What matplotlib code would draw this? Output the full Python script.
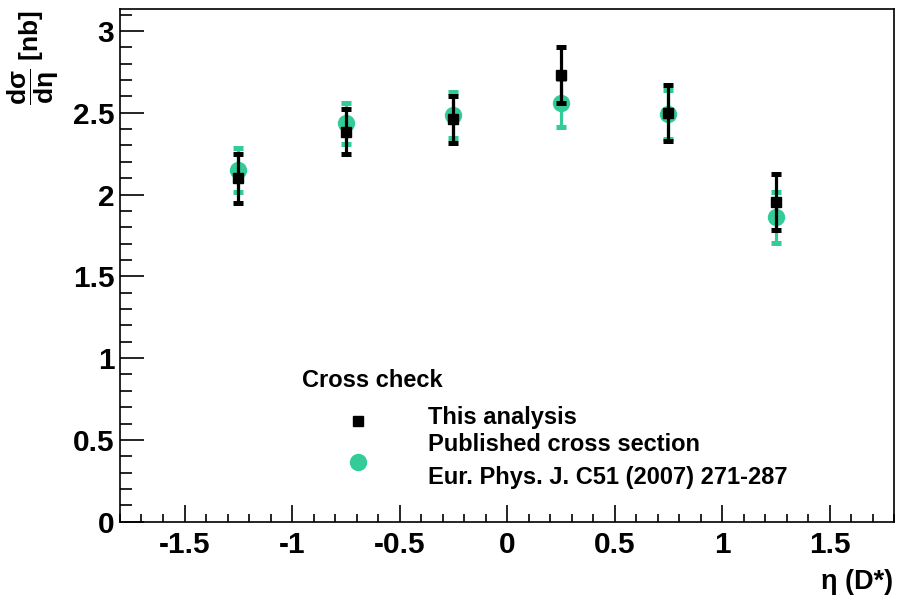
import matplotlib
matplotlib.use("Agg")
import matplotlib.pyplot as plt
from matplotlib.ticker import MultipleLocator, FuncFormatter

plt.rcParams['font.family'] = ['Liberation Sans', 'DejaVu Sans']
plt.rcParams['mathtext.fontset'] = 'custom'
plt.rcParams['mathtext.rm'] = 'Liberation Sans'
plt.rcParams['mathtext.bf'] = 'Liberation Sans:bold'
plt.rcParams['mathtext.it'] = 'Liberation Sans:italic'

eta_bins = [-1.25, -0.75, -0.25, 0.25, 0.75, 1.25]
this_analysis = [2.10, 2.385, 2.46, 2.73, 2.50, 1.955]
this_err = [0.15, 0.14, 0.143, 0.173, 0.17, 0.17]
published = [2.15, 2.435, 2.485, 2.56, 2.49, 1.86]
published_err = [0.135, 0.125, 0.14, 0.147, 0.15, 0.158]

xticks = [-1.5, -1, -0.5, 0, 0.5, 1, 1.5]
yticks = [0, 0.5, 1, 1.5, 2, 2.5, 3]

green = '#33cc99'

fig = plt.figure(figsize=(8.98, 6.02), dpi=100)
ax = fig.add_axes([120/898, 1-521.7/602, 774/898, 512.7/602])

ax.errorbar(eta_bins, published, yerr=published_err, fmt='o', color=green,
            ms=11.5, elinewidth=2.3, capsize=3.3, capthick=3.6, zorder=2)
ax.errorbar(eta_bins, this_analysis, yerr=this_err, fmt='s', color='black',
            ms=7.5, elinewidth=2.3, capsize=3.3, capthick=3.6, zorder=3)

ax.set_xlim(-1.8, 1.8)
ax.set_ylim(0, 3.134)
ax.set_xticks(xticks)
ax.set_yticks(yticks)
ax.xaxis.set_minor_locator(MultipleLocator(0.1))
ax.yaxis.set_minor_locator(MultipleLocator(0.1))

def fmt(v, pos):
    return ('%g' % v)
ax.xaxis.set_major_formatter(FuncFormatter(fmt))
ax.yaxis.set_major_formatter(FuncFormatter(fmt))

ax.tick_params(axis='both', which='both', direction='in', top=False, right=False,
               labelsize=21.5, width=1.2)
ax.tick_params(axis='x', which='major', length=12.5, pad=7)
ax.tick_params(axis='x', which='minor', length=6)
ax.tick_params(axis='y', which='major', length=17, pad=4)
ax.tick_params(axis='y', which='minor', length=8.5)
for lab in ax.get_xticklabels() + ax.get_yticklabels():
    lab.set_fontweight('bold')
for s in ax.spines.values():
    s.set_linewidth(1.2)

# axis titles
fig.text(893/898, 1-582/602, 'η (D*)', ha='right', va='center', fontsize=19.5,
         fontweight='bold')
fig.text(33/898, 1-10/602, r'$\mathbf{\dfrac{d\sigma}{d\eta}}$ [nb]', rotation=90,
         ha='center', va='top', fontsize=19, fontweight='bold')

# legend
fs = 17
ax.text(0.235, 0.276, 'Cross check', transform=ax.transAxes, fontsize=fs,
        fontweight='bold', ha='left', va='center')
ax.plot([0.3075], [0.196], 's', color='black', ms=7.5, transform=ax.transAxes,
        clip_on=False)
ax.plot([0.3075], [0.1165], 'o', color=green, ms=11.5, transform=ax.transAxes,
        clip_on=False)
ax.text(0.398, 0.204, 'This analysis', transform=ax.transAxes, fontsize=fs,
        fontweight='bold', ha='left', va='center')
ax.text(0.398, 0.150, 'Published cross section', transform=ax.transAxes,
        fontsize=fs, fontweight='bold', ha='left', va='center')
ax.text(0.398, 0.087, 'Eur. Phys. J. C51 (2007) 271-287', transform=ax.transAxes,
        fontsize=fs, fontweight='bold', ha='left', va='center')

fig.savefig('out.png', dpi=100)
